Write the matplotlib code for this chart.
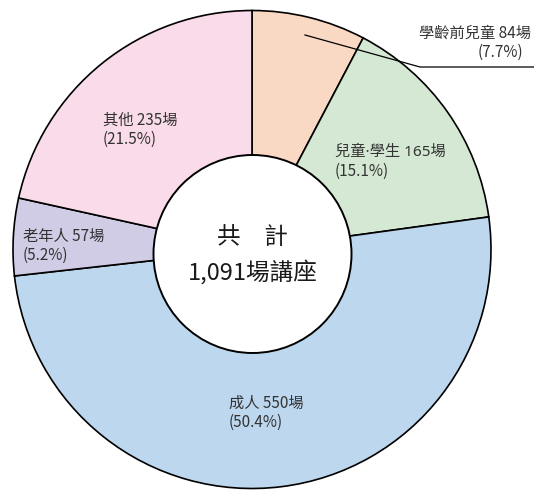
import matplotlib
matplotlib.use("Agg")
import matplotlib.pyplot as plt
from matplotlib.patches import Circle

plt.rcParams['font.family'] = ['Noto Sans CJK TC', 'DejaVu Sans']

# data
categories = ['學齡前兒童', '兒童·學生', '成人', '老年人', '其他']
counts = [84, 165, 550, 57, 235]
colors = ['#FAD9C4', '#D5E8D4', '#BDD7EE', '#D0CCE6', '#F9DBE9']
total_label = '1,091場講座'

W, H = 534, 490


def py(y):
    '''pixel row (from top) to data y'''
    return H - y


fig = plt.figure(figsize=(W / 100, H / 100), dpi=100)
ax = fig.add_axes([0, 0, 1, 1])

ax.pie(counts, colors=colors, startangle=90, counterclock=False,
       center=(252, py(249.5)), radius=239,
       wedgeprops=dict(edgecolor='black', linewidth=1.2))
ax.set_xlim(0, W)
ax.set_ylim(0, H)
ax.set_aspect('equal')
ax.axis('off')

# hole in the middle
ax.add_patch(Circle((252.5, py(254)), 99, facecolor='white',
                    edgecolor='black', linewidth=1.4, zorder=5))
ax.text(252.5, py(238), '共\u3000計', ha='center', va='center',
        fontsize=17, color='#1a1a1a', zorder=6)
ax.text(252.5, py(272), total_label, ha='center', va='center',
        fontsize=17, color='#1a1a1a', zorder=6)

total = sum(counts)
pcts = [c / total * 100 for c in counts]

# label anchors: (x, y of first line, align)
label_pos = [(531, 33, 'right'), (335, 152, 'left'), (229, 403, 'left'),
             (23, 236, 'left'), (103, 120, 'left')]
txt_color = '#333333'
for name, c, p, (x, y, ha) in zip(categories, counts, pcts, label_pos):
    fam = ['Noto Sans CJK TC', 'DejaVu Sans']
    if '·' in name:
        # narrow middle dot like the original
        fam = ['Noto Sans', 'Noto Sans CJK TC']
    ax.text(x, py(y), f'{name} {c}場', ha=ha, va='center',
            fontsize=11, color=txt_color, family=fam)
    x2 = x - 8 if ha == 'right' else x
    ax.text(x2, py(y + 19.5), f'({p:.1f}%)', ha=ha, va='center',
            fontsize=11, color=txt_color)

# leader line for the small slice
ax.plot([305, 420, 534], [py(35), py(67), py(67)], color='black',
        linewidth=0.9, zorder=4)

fig.savefig('out.png', dpi=100)
